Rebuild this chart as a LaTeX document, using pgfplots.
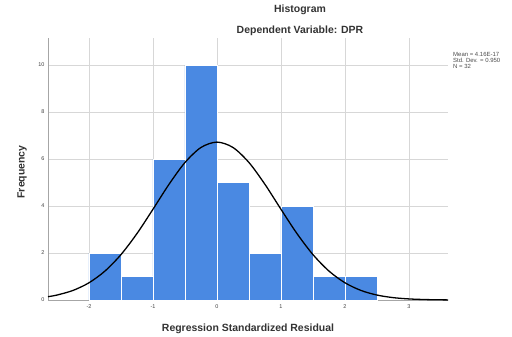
\documentclass[border=0pt]{standalone}
\usepackage{pgfplots}
\pgfplotsset{compat=1.18}
\usepackage{fontspec}
\setmainfont{Liberation Sans}
\definecolor{barblue}{RGB}{74,137,226}
\definecolor{gridgray}{RGB}{215,215,215}
\begin{document}
\begin{tikzpicture}[x=1bp,y=1bp]
\useasboundingbox (0,0) rectangle (512,336);
\fill[white] (0,0) rectangle (512,336);
\begin{axis}[
  at={(48bp,36bp)}, anchor=south west,
  scale only axis, width=400bp, height=262bp,
  xmin=-2.64, xmax=3.61, ymin=0, ymax=11.15,
  xtick={-2,-1,0,1,2,3}, ytick={0,2,4,6,8,10},
  grid=major, major grid style={gridgray, line width=0.6pt},
  axis x line*=bottom, axis y line*=left,
  axis line style={gray!70, line width=0.6pt},
  tick style={draw=none},
  ticklabel style={font=\fontsize{5.5}{6.5}\selectfont, text=black!75},
  /pgf/number format/assume math mode=true,
  xticklabel style={yshift=-1pt},
  clip=false,
]
\addplot[ybar interval, fill=barblue, draw=white, line width=0.8pt] coordinates {
(-2,2) (-1.5,1) (-1,6) (-0.5,10) (0,5) (0.5,2) (1,4) (1.5,1) (2,1) (2.5,1)
};
\addplot[black, line width=1.3pt, smooth] coordinates {
(-2.64,0.1415) (-2.5,0.2107) (-2.25,0.4068) (-2,0.7327) (-1.75,1.2317) (-1.5,1.932)
(-1.25,2.8276) (-1,3.8616) (-0.75,4.9208) (-0.5,5.8508) (-0.25,6.4913) (0,6.72)
(0.25,6.4913) (0.5,5.8508) (0.75,4.9208) (1,3.8616) (1.25,2.8276) (1.5,1.932)
(1.75,1.2317) (2,0.7327) (2.25,0.4068) (2.5,0.2107) (2.75,0.1018) (3,0.0459)
(3.25,0.0193) (3.5,0.0076) (3.61,0.004)
};
\end{axis}
\node[font=\bfseries\fontsize{10.5}{12}\selectfont, text=black!80] at (300,326) {Histogram};
\node[font=\bfseries\fontsize{10.5}{12}\selectfont, text=black!80] at (300,305) {Dependent Variable: DPR};
\node[font=\bfseries\fontsize{10.5}{12}\selectfont, text=black!80, rotate=90] at (22,164) {Frequency};
\node[font=\bfseries\fontsize{10.5}{12}\selectfont, text=black!80] at (248,7) {Regression Standardized Residual};
\node[font=\fontsize{6}{6}\selectfont, text=black!70, anchor=north west, align=left, inner sep=0pt] at (453,284) {Mean = 4.16E-17\\Std. Dev. = 0.950\\N = 32};
\end{tikzpicture}
\end{document}
